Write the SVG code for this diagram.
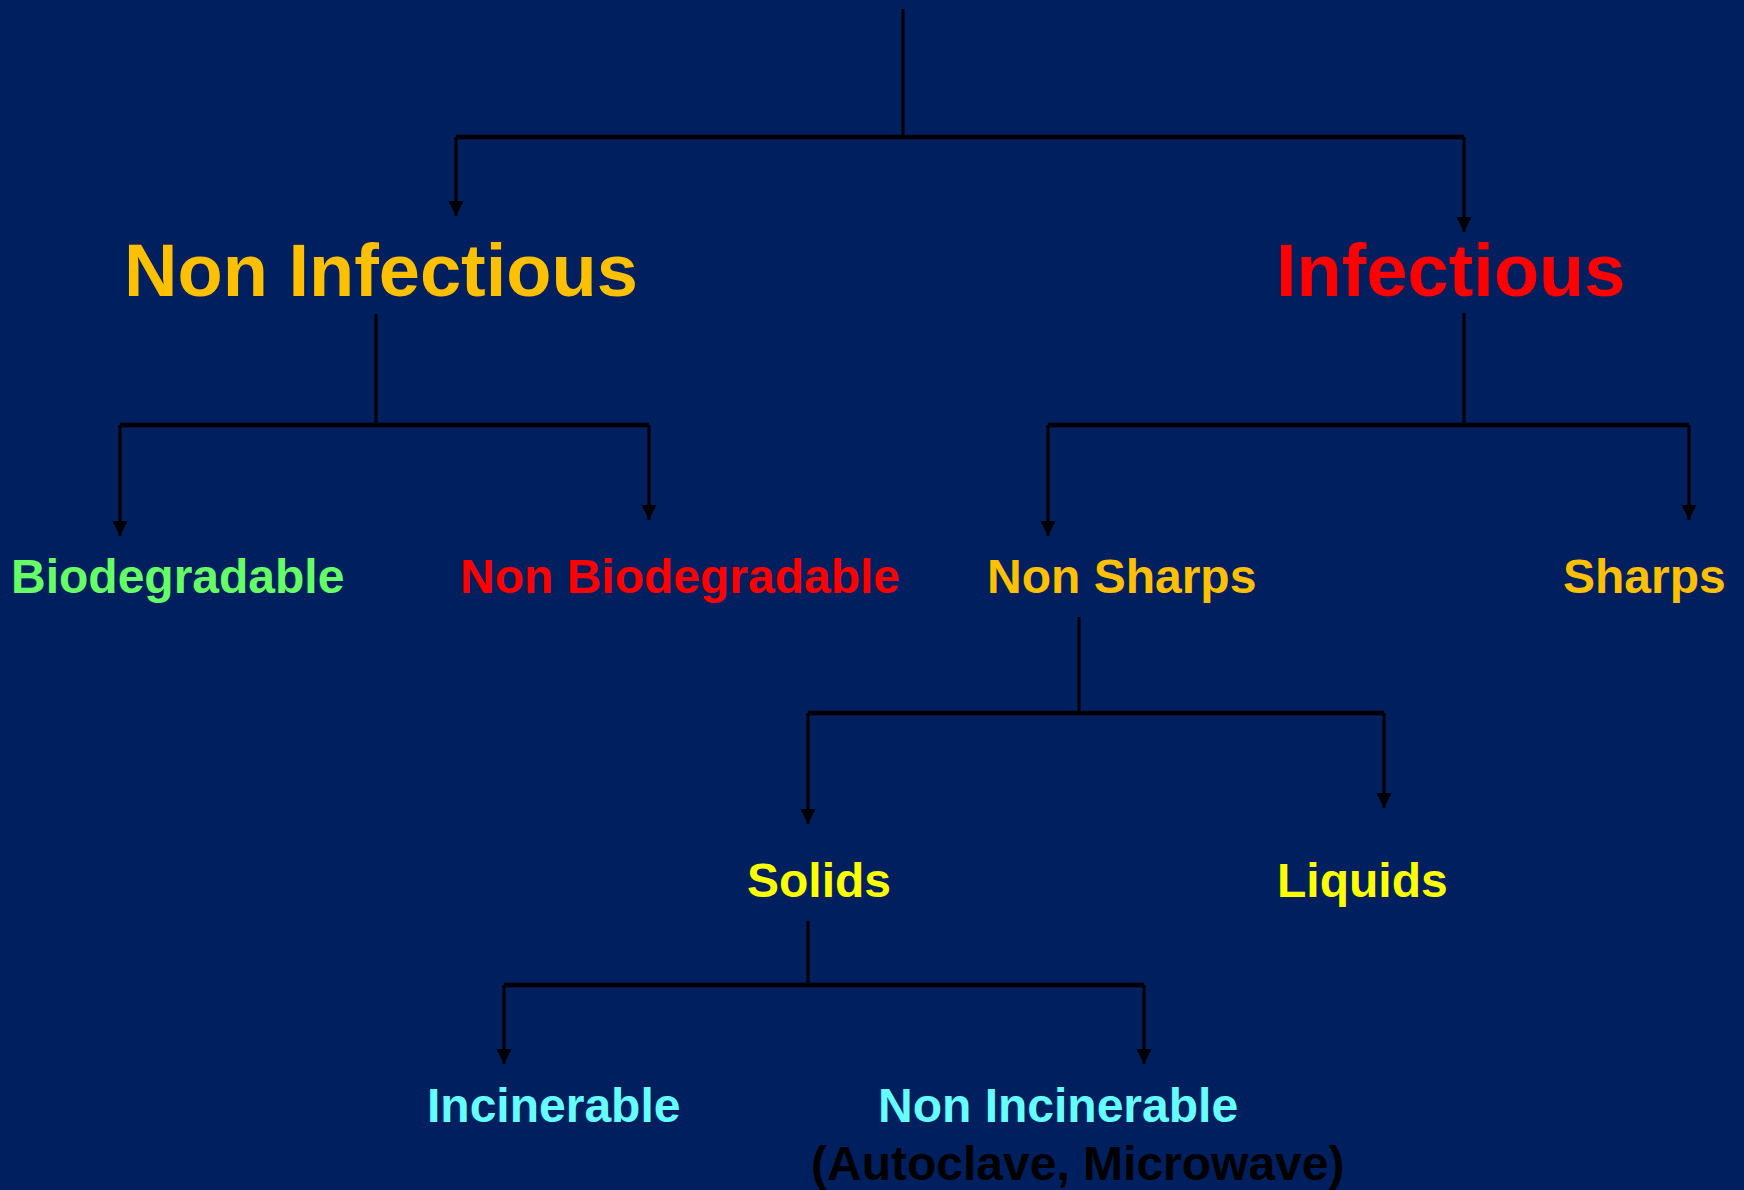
<svg xmlns="http://www.w3.org/2000/svg" width="1744" height="1190" viewBox="0 0 1744 1190">
  <style>
    .t { font-family: "Liberation Sans", Arial, sans-serif; font-weight: bold; }
    .big { font-size: 74px; }
    .sm { font-size: 48px; }
    .stem { stroke: #000; stroke-width: 3; fill: none; }
    .bar { stroke: #000; stroke-width: 4.5; fill: none; }
    .arr { stroke: #000; stroke-width: 3; fill: none; marker-end: url(#ah); }
  </style>
  <defs>
    <marker id="ah" markerUnits="userSpaceOnUse" markerWidth="16" markerHeight="16" viewBox="0 0 16 16" refX="15" refY="8" orient="auto">
      <path d="M0,0.5 L15,8 L0,15.5 Z" fill="#000"/>
    </marker>
  </defs>
  <rect width="1744" height="1190" fill="#001F5F"/>

  <g id="connectors">
    <path class="stem" d="M903,9 V137"/>
    <path class="bar" d="M456,137 H1464"/>
    <path class="arr" d="M456,137 V216"/>
    <path class="arr" d="M1464,137 V232"/>

    <path class="stem" d="M376,314 V425"/>
    <path class="bar" d="M120,425 H649"/>
    <path class="arr" d="M120,425 V536"/>
    <path class="arr" d="M649,425 V520"/>

    <path class="stem" d="M1464,313 V425"/>
    <path class="bar" d="M1048,425 H1689"/>
    <path class="arr" d="M1048,425 V536"/>
    <path class="arr" d="M1689,425 V520"/>

    <path class="stem" d="M1079,617 V713"/>
    <path class="bar" d="M808,713 H1384"/>
    <path class="arr" d="M808,713 V824"/>
    <path class="arr" d="M1384,713 V808"/>

    <path class="stem" d="M808,921 V985"/>
    <path class="bar" d="M504,985 H1144"/>
    <path class="arr" d="M504,985 V1064"/>
    <path class="arr" d="M1144,985 V1064"/>
  </g>

  <g id="non-infectious"><text class="t big" x="124" y="296" fill="#FFC000">Non Infectious</text></g>
  <g id="infectious"><text class="t big" x="1276" y="296" fill="#FF0000">Infectious</text></g>
  <g id="biodegradable"><text class="t sm" x="11" y="593" fill="#66FF66">Biodegradable</text></g>
  <g id="non-biodegradable"><text class="t sm" x="460" y="593" fill="#FF0000">Non Biodegradable</text></g>
  <g id="non-sharps"><text class="t sm" x="987" y="593" fill="#FFC000">Non Sharps</text></g>
  <g id="sharps"><text class="t sm" x="1563" y="593" fill="#FFC000">Sharps</text></g>
  <g id="solids"><text class="t sm" x="747" y="897" fill="#FFFF00">Solids</text></g>
  <g id="liquids"><text class="t sm" x="1277" y="897" fill="#FFFF00">Liquids</text></g>
  <g id="incinerable"><text class="t sm" x="427" y="1122" fill="#66FFFF">Incinerable</text></g>
  <g id="non-incinerable">
    <text class="t sm" x="878" y="1122" fill="#66FFFF">Non Incinerable</text>
    <text class="t sm" x="811" y="1180" fill="#000000">(Autoclave, Microwave)</text>
  </g>
</svg>
